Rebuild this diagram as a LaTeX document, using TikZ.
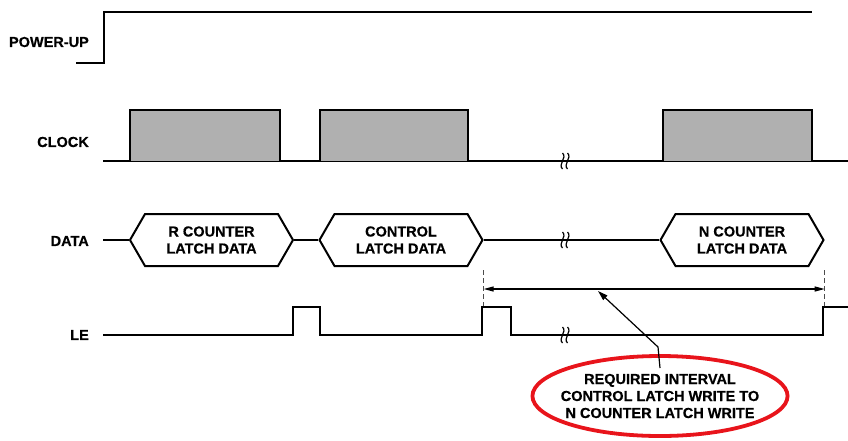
\documentclass[tikz,border=0pt]{standalone}
\usepackage{fontspec}
\setmainfont[FakeBold=0.5]{Liberation Sans}
\usetikzlibrary{shapes.symbols,shapes.geometric,arrows.meta}

\definecolor{pulsegray}{HTML}{B0B0B0}
\definecolor{ovalred}{HTML}{E8141B}

\tikzset{
  wave/.style={line width=2pt, line join=miter},
  txt/.style={font=\fontsize{14.5}{17}\selectfont\bfseries},
  siglabel/.style={txt, anchor=east, inner sep=0pt},
  hexdata/.style={txt, draw, line width=2pt, signal, signal to=east and west,
    signal pointer angle=120, minimum width=163pt, minimum height=52pt,
    inner sep=0pt, align=center},
  guide/.style={line width=1pt, dashed, dash pattern=on 5pt off 3pt, black!70},
}

% little break mark across a trace
\newcommand{\breakmark}[2]{
  \foreach \dx in {-2.5,2.5}
    \draw[line width=1.2pt] (#1+\dx,#2-8) .. controls (#1+\dx+5,#2-3) and (#1+\dx-5,#2+3) .. (#1+\dx,#2+8);
}

\begin{document}
\begin{tikzpicture}[x=1pt,y=-1pt]
\useasboundingbox (0,0) rectangle (848,440);

% Labels
\node[siglabel] (pwrlbl) at (89,42) {POWER-UP};
\node[siglabel] (clklbl) at (89,142) {CLOCK};
\node[siglabel] (datlbl) at (89,241) {DATA};
\node[siglabel] (lelbl) at (89,335) {LE};

% POWER-UP
\draw[wave] (76,63) -- (104,63) -- (104,12) -- (812,12);

% CLOCK
\draw[wave] (103,161) -- (848,161);
\foreach \a/\b in {130/280, 320/468, 663/812}
  \filldraw[wave, fill=pulsegray] (\a,161) -- (\a,110) -- (\b,110) -- (\b,161);
\breakmark{565}{161}

% DATA
\node[hexdata] (rcnt) at (211.5,240) {R COUNTER\\LATCH DATA};
\node[hexdata] (ctrl) at (401,240) {CONTROL\\LATCH DATA};
\node[hexdata] (ncnt) at (742,240) {N COUNTER\\LATCH DATA};
\coordinate (d0) at (103,240);
\draw[wave] (d0) -- (rcnt.west);
\draw[wave] (rcnt.east) -- (ctrl.west);
\draw[wave] (ctrl.east) -- (ncnt.west);
\breakmark{565}{240}

% LE
\draw[wave] (103,335) -- (293,335) -- (293,307) -- (320,307) -- (320,335)
  -- (482,335) -- (482,307) -- (511,307) -- (511,335) -- (823,335)
  -- (823,307) -- (848,307);
\breakmark{565}{335}

% interval
\coordinate (t1) at (ctrl.east |- 0,289);
\coordinate (t2) at (ncnt.east |- 0,289);
\draw[guide] (ctrl.east |- 0,270) -- (ctrl.east |- 0,306);
\draw[guide] (ncnt.east |- 0,270) -- (ncnt.east |- 0,306);
\draw[line width=1.2pt, {Triangle[length=10pt,width=5pt]}-{Triangle[length=10pt,width=5pt]}] (t1) -- (t2);

% note
\node[txt, ellipse, draw=ovalred, line width=3.8pt, minimum width=246pt,
  minimum height=80pt, inner xsep=-9pt, inner ysep=0pt, align=center] (note) at (660,396)
  {REQUIRED INTERVAL\\CONTROL LATCH WRITE TO\\N COUNTER LATCH WRITE};
\coordinate (tail) at (660,368);
\coordinate (iv) at (598,291);
\draw[line width=1.2pt, -{Triangle[length=10pt,width=6pt]}] (tail) -- (658,347) -- (iv);

\end{tikzpicture}
\end{document}
